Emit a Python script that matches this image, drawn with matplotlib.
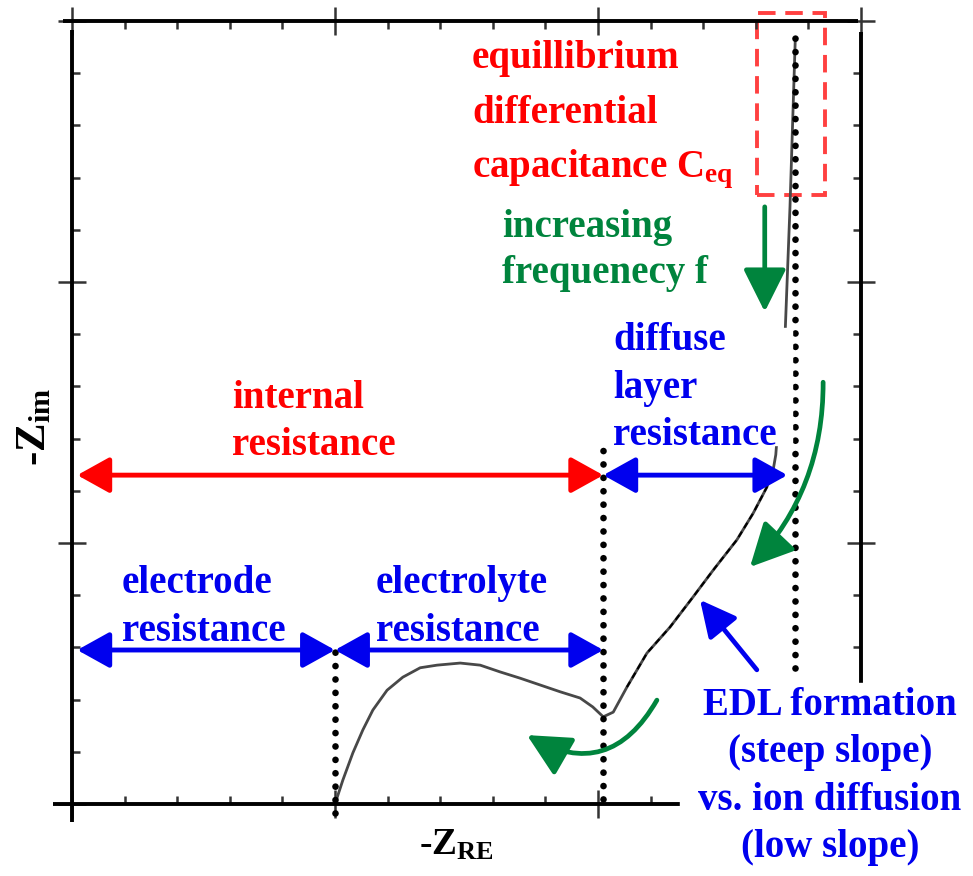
import numpy as np
import matplotlib.pyplot as plt
from matplotlib.patches import Rectangle

plt.rcParams['font.family'] = ['Liberation Serif', 'DejaVu Serif']
plt.rcParams['mathtext.fontset'] = 'custom'
plt.rcParams['mathtext.rm'] = 'Liberation Serif:bold'
plt.rcParams['mathtext.it'] = 'Liberation Serif:bold'
plt.rcParams['mathtext.bf'] = 'Liberation Serif:bold'

# schematic Nyquist curve (arbitrary units)
curve_x = [5.00, 5.15, 5.34, 5.53, 5.72, 5.99, 6.29, 6.62, 6.94, 7.38, 7.76, 8.14, 8.52,
           8.90, 9.28, 9.66, 9.90, 10.10, 10.29, 10.55, 10.93, 11.37, 11.81, 12.19, 12.64,
           12.95, 13.21, 13.33, 13.38, 13.56, 13.65, 13.75]
curve_y = [0.00, 0.46, 0.98, 1.42, 1.80, 2.18, 2.43, 2.61, 2.66, 2.70, 2.66, 2.53, 2.41,
           2.28, 2.15, 2.03, 1.86, 1.67, 1.76, 2.24, 2.89, 3.39, 3.97, 4.48, 5.06,
           5.57, 6.07, 6.40, 6.69, 9.08, 11.44, 14.64]
# dashed overlay on the sloped part
slope_x = [10.55, 10.93, 11.37, 11.81, 12.19, 12.64, 12.95, 13.21, 13.33]
slope_y = [2.24, 2.89, 3.39, 3.97, 4.48, 5.06, 5.57, 6.07, 6.40]

# dotted guide lines
guide_x = [5.0, 10.1, 13.75]
guide_lo = [-0.17, 0.1, 2.6]
guide_hi = [2.99, 6.9, 14.8]

# double arrows (start, end)
red_arrow = ((0.1, 6.3), (10.1, 6.3))
blue_arrows = [((0.1, 2.95), (5.0, 2.95)),
               ((5.0, 2.95), (10.1, 2.95)),
               ((10.1, 6.3), (13.6, 6.3))]
# green frequency arrows (start, end, bend)
green_arrows = [((13.17, 11.44), (13.17, 9.43), 0.0),
                ((14.28, 8.08), (12.89, 4.54), -0.2),
                ((11.12, 1.99), (8.65, 1.32), -0.5)]
edl_arrow = ((13.02, 2.57), (11.94, 3.91))
ceq_box = (13.02, 11.67, 1.30, 3.48)

RED = '#ff0000'
BLUE = '#0000ee'
GREEN = '#00843d'

W, H = 973, 876
def fx(p):
    return p / W
def fy(p):
    return 1 - p / H

fig = plt.figure(figsize=(9.73, 8.76), dpi=100)
ax = fig.add_axes([fx(72), fy(804), 789 / W, 783 / H])

ax.plot(curve_x, curve_y, color='#484848', lw=2.0, solid_joinstyle='round')
ax.plot(slope_x, slope_y, color='black', lw=1.5, ls=(0, (3, 2)))

for x, lo, hi in zip(guide_x, guide_lo, guide_hi):
    ax.plot([x, x], [lo, hi], color='black', lw=4.8, ls=(0, (0.01, 2.0)),
            dash_capstyle='round', clip_on=False)

def arrow(p0, p1, color, style, lw=3.5, scale=22, rad=0.0):
    ax.annotate('', xy=p1, xytext=p0, annotation_clip=False,
                arrowprops=dict(arrowstyle=style, color=color, lw=lw, shrinkA=0, shrinkB=0,
                                mutation_scale=scale, connectionstyle='arc3,rad=%s' % rad))

arrow(red_arrow[0], red_arrow[1], RED, '<|-|>,head_length=0.9,head_width=0.5')
for p0, p1 in blue_arrows:
    arrow(p0, p1, BLUE, '<|-|>,head_length=0.9,head_width=0.5')
for p0, p1, r in green_arrows:
    arrow(p0, p1, GREEN, '-|>,head_length=1.1,head_width=0.55', lw=3.4, scale=24, rad=r)
arrow(edl_arrow[0], edl_arrow[1], BLUE, '-|>,head_length=1.0,head_width=0.5', lw=3.4)

ax.add_patch(Rectangle(ceq_box[:2], ceq_box[2], ceq_box[3], fill=False, edgecolor='#ff4040',
                       lw=2.8, ls=(0, (4.5, 2.5)), clip_on=False))

# axes frame drawn by hand (overshooting corners like the original)
for spine in ax.spines.values():
    spine.set_visible(False)
kw = dict(color='black', lw=2.8, transform=ax.transAxes, clip_on=False, solid_capstyle='butt')
ax.plot([-0.011, 0.996], [1, 1], **kw)
ax.plot([0, 0], [-0.023, 0.989], **kw)
ax.plot([1, 1], [0.155, 0.986], **kw)
ax.plot([-0.024, 0.771], [0, 0], **kw)

ax.set_xlim(0, 15)
ax.set_ylim(0, 15)
ax.set_xticks([0, 5, 10, 15])
ax.set_yticks([0, 5, 10, 15])
ax.set_xticks(range(16), minor=True)
ax.set_yticks(range(16), minor=True)
ax.tick_params(which='both', top=True, right=True, labelbottom=False, labelleft=False,
               color='#333333', width=1.8)
ax.tick_params(which='major', direction='inout', length=20)
ax.tick_params(which='minor', direction='in', length=6)

# white cover boxes
fig.add_artist(Rectangle((fx(605), fy(445)), (792 - 605) / W, (445 - 328) / H,
                         transform=fig.transFigure, color='white', zorder=1))
fig.add_artist(Rectangle((fx(680), 0), 1 - fx(680), fy(683),
                         transform=fig.transFigure, color='white', zorder=1))

fs = 28
tkw = dict(fontsize=fs, fontweight='bold', va='baseline', zorder=3)

def block(lines, x, ys, color, ha='left'):
    for s, y in zip(lines, ys):
        fig.text(fx(x), fy(y), s, color=color, ha=ha, **tkw)

block(['equillibrium', 'differential', r'capacitance C$_{\mathbf{eq}}$'], 472, [68, 123, 177], RED)
block(['increasing', 'frequenecy f'], 502, [237, 283], GREEN)
block(['diffuse', 'layer', 'resistance'], 613, [350, 398, 445], BLUE)
block(['internal', 'resistance'], 232, [408, 455], RED)
block(['electrode', 'resistance'], 122, [593, 641], BLUE)
block(['electrolyte', 'resistance'], 376, [593, 641], BLUE)
block(['EDL formation', '(steep slope)', 'vs. ion diffusion', '(low slope)'], 830,
      [715, 762, 810, 857], BLUE, ha='center')

fig.text(fx(35), fy(427), r'-Z$_{\mathbf{im}}$', fontsize=31, fontweight='bold',
         rotation=90, ha='center', va='center', color='black')
fig.text(fx(456), fy(855), r'-Z$_{\mathbf{RE}}$', fontsize=27, fontweight='bold',
         ha='center', va='baseline', color='black')

fig.savefig('out.png', dpi=100, facecolor='white')
